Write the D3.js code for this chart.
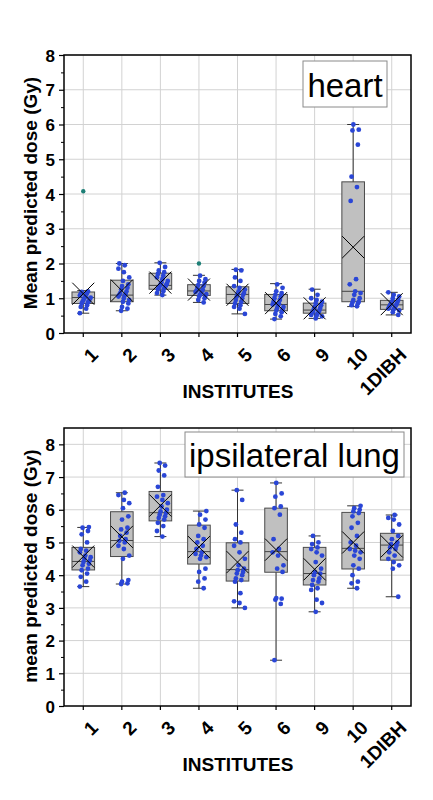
<html>
  <head>
    <meta charset="UTF-8" />
    <script src="https://cdnjs.cloudflare.com/ajax/libs/d3/7.8.5/d3.min.js"></script>
    <style>
      body { margin: 0; background: #fff; }
      text { font-family: "Liberation Sans", Arial, sans-serif; }
    </style>
  </head>
  <body>
    <svg id="chart" width="433" height="800"></svg>
    <script>
      const institutes = ["1", "2", "3", "4", "5", "6", "9", "10", "1DIBH"];

      // heart: mean predicted dose (Gy)
      const heartPoints = [
        [0.57, 0.7, 0.75, 0.8, 0.85, 0.88, 0.9, 0.92, 0.95, 0.98, 1.0, 1.02, 1.05, 1.08, 1.1, 1.12, 1.15, 1.18, 1.2],
        [0.64, 0.7, 0.75, 0.85, 0.9, 0.95, 1.0, 1.05, 1.08, 1.1, 1.12, 1.15, 1.2, 1.25, 1.3, 1.35, 1.4, 1.5, 1.6, 1.75, 1.85, 1.95, 2.0],
        [1.09, 1.15, 1.2, 1.25, 1.28, 1.3, 1.33, 1.35, 1.37, 1.4, 1.42, 1.45, 1.5, 1.55, 1.6, 1.65, 1.7, 1.75, 1.8, 1.9, 2.02],
        [0.88, 0.95, 1.0, 1.05, 1.08, 1.1, 1.12, 1.15, 1.18, 1.2, 1.22, 1.25, 1.3, 1.35, 1.38, 1.45, 1.5, 1.55, 1.65],
        [0.55, 0.7, 0.75, 0.8, 0.85, 0.9, 0.95, 1.0, 1.05, 1.1, 1.12, 1.15, 1.2, 1.25, 1.3, 1.35, 1.5, 1.6, 1.8, 1.82],
        [0.4, 0.48, 0.55, 0.6, 0.65, 0.68, 0.72, 0.75, 0.8, 0.82, 0.85, 0.9, 0.95, 1.0, 1.05, 1.1, 1.15, 1.2, 1.3, 1.4],
        [0.42, 0.48, 0.5, 0.52, 0.55, 0.58, 0.6, 0.62, 0.65, 0.7, 0.72, 0.75, 0.8, 0.85, 0.9, 0.95, 1.0, 1.1, 1.25],
        [0.77, 0.8, 0.85, 0.88, 0.9, 0.95, 1.0, 1.1, 1.15, 1.2, 1.4, 1.55, 3.8, 4.2, 4.5, 5.42, 5.83, 5.85, 6.0],
        [0.52, 0.6, 0.65, 0.68, 0.7, 0.72, 0.75, 0.78, 0.8, 0.82, 0.85, 0.88, 0.9, 0.95, 1.0, 1.05, 1.1, 1.17]
      ];
      const heartOutliers = [[4.08], [], [], [2.0], [], [], [], [], []];
      const heartLow = [0.57, 0.64, 1.09, 0.88, 0.55, 0.4, 0.42, 0.76, 0.52];
      const heartQ1 = [0.85, 0.9, 1.26, 1.08, 0.85, 0.64, 0.57, 0.9, 0.68];
      const heartMedian = [1.02, 1.09, 1.37, 1.21, 1.11, 0.82, 0.66, 1.2, 0.81];
      const heartQ3 = [1.18, 1.52, 1.72, 1.39, 1.33, 1.11, 0.86, 4.35, 0.94];
      const heartHigh = [1.22, 2.0, 2.02, 1.66, 1.83, 1.42, 1.26, 6.0, 1.17];
      const heartMean = [1.13, 1.22, 1.45, 1.25, 1.1, 0.86, 0.71, 2.47, 0.83];

      // ipsilateral lung: mean predicted dose (Gy)
      const lungPoints = [
        [3.65, 3.8, 3.95, 4.05, 4.15, 4.2, 4.3, 4.35, 4.4, 4.45, 4.5, 4.55, 4.6, 4.7, 4.75, 4.8, 5.0, 5.25, 5.35, 5.45, 5.47],
        [3.73, 3.75, 3.8, 3.85, 4.5, 4.6, 4.8, 4.9, 5.0, 5.05, 5.1, 5.2, 5.3, 5.4, 5.45, 5.7, 5.8, 6.05, 6.2, 6.3, 6.45, 6.52],
        [5.18, 5.35, 5.5, 5.6, 5.7, 5.75, 5.8, 5.85, 5.9, 5.95, 6.0, 6.1, 6.2, 6.3, 6.4, 6.45, 6.7, 7.05, 7.2, 7.35, 7.43],
        [3.6, 3.8, 3.9, 4.1, 4.2, 4.5, 4.55, 4.6, 4.65, 4.7, 4.8, 4.9, 5.0, 5.1, 5.2, 5.45, 5.55, 5.7, 5.85, 5.96],
        [3.0, 3.15, 3.2, 3.45, 3.8, 3.85, 3.9, 4.0, 4.05, 4.1, 4.15, 4.2, 4.3, 4.5, 4.7, 4.9, 5.0, 5.1, 5.3, 5.55, 6.3, 6.6],
        [1.4, 3.12, 3.25, 3.28, 3.3, 4.1, 4.2, 4.3, 4.6, 4.7, 4.8, 5.1, 5.85, 6.05, 6.1, 6.4, 6.5, 6.82],
        [2.88, 3.15, 3.25, 3.55, 3.6, 3.7, 3.8, 3.85, 3.9, 4.0, 4.05, 4.1, 4.2, 4.4, 4.6, 4.7, 4.8, 4.85, 4.95, 5.0, 5.2],
        [3.6, 3.75, 3.8, 4.0, 4.2, 4.3, 4.5, 4.6, 4.7, 4.75, 4.8, 4.9, 5.0, 5.2, 5.45, 5.6, 5.8, 5.9, 5.95, 6.0, 6.05, 6.12],
        [3.34, 4.2, 4.3, 4.4, 4.5, 4.6, 4.7, 4.8, 4.85, 4.9, 4.95, 5.0, 5.1, 5.2, 5.35, 5.55, 5.7, 5.75, 5.84]
      ];
      const lungOutliers = [[], [], [], [], [], [], [], [], []];
      const lungLow = [3.65, 3.73, 5.18, 3.6, 3.0, 1.4, 2.88, 3.6, 3.34];
      const lungQ1 = [4.16, 4.57, 5.66, 4.34, 3.82, 4.09, 3.7, 4.19, 4.46];
      const lungMedian = [4.42, 5.06, 5.91, 4.72, 4.17, 4.72, 4.05, 4.82, 4.92];
      const lungQ3 = [4.85, 5.94, 6.56, 5.53, 4.99, 6.05, 4.85, 5.92, 5.28];
      const lungHigh = [5.46, 6.52, 7.43, 5.96, 6.6, 6.82, 5.2, 6.12, 5.84];
      const lungMean = [4.57, 5.17, 6.13, 4.86, 4.4, 4.78, 4.18, 5.0, 4.88];

      const svg = d3.select("#chart");

      drawPanel({
        points: heartPoints, outliers: heartOutliers,
        low: heartLow, q1: heartQ1, median: heartMedian, q3: heartQ3, high: heartHigh, mean: heartMean,
        yMax: 8, bottom: 333, top: 55,
        yTitle: "Mean predicted dose (Gy)",
        legend: "heart", legendBox: [303, 61, 84, 46]
      });

      drawPanel({
        points: lungPoints, outliers: lungOutliers,
        low: lungLow, q1: lungQ1, median: lungMedian, q3: lungQ3, high: lungHigh, mean: lungMean,
        yMax: 8.5, bottom: 706, top: 428,
        yTitle: "mean predicted dose (Gy)",
        legend: "ipsilateral lung", legendBox: [185, 432, 219, 45]
      });

      function drawPanel(p) {
        const left = 64, right = 411;
        const x = d3.scaleBand().domain(institutes).range([left, right]);
        const cx = d => x(d) + x.bandwidth() / 2;
        const y = d3.scaleLinear().domain([0, p.yMax]).range([p.bottom, p.top]);
        const g = svg.append("g");
        const boxW = 22.6, capW = 12, xSize = 11;

        // grid
        g.selectAll(".hgrid")
          .data(d3.range(1, Math.floor(p.yMax) + 1))
          .enter()
          .append("line")
          .attr("x1", left).attr("x2", right)
          .attr("y1", d => y(d)).attr("y2", d => y(d))
          .style("stroke", "#d2d2d2");
        g.selectAll(".vgrid")
          .data(institutes)
          .enter()
          .append("line")
          .attr("x1", cx).attr("x2", cx)
          .attr("y1", p.top).attr("y2", p.bottom)
          .style("stroke", "#d2d2d2");

        // legend box
        const lb = p.legendBox;
        g.append("rect")
          .attr("x", lb[0]).attr("y", lb[1])
          .attr("width", lb[2]).attr("height", lb[3])
          .style("fill", "#fff").style("stroke", "#8a8a8a");
        g.append("text")
          .attr("x", lb[0] + lb[2] / 2).attr("y", lb[1] + lb[3] - 10.5)
          .attr("text-anchor", "middle")
          .style("font-size", "33px")
          .text(p.legend);

        const boxes = g.selectAll(".box")
          .data(institutes)
          .enter()
          .append("g")
          .attr("class", "box");

        // whiskers
        boxes.append("line")
          .attr("x1", cx).attr("x2", cx)
          .attr("y1", (d, i) => y(p.high[i])).attr("y2", (d, i) => y(p.low[i]))
          .style("stroke", "#333");
        [p.high, p.low].forEach(arr => {
          boxes.append("line")
            .attr("x1", d => cx(d) - capW / 2).attr("x2", d => cx(d) + capW / 2)
            .attr("y1", (d, i) => y(arr[i])).attr("y2", (d, i) => y(arr[i]))
            .style("stroke", "#333");
        });

        boxes.append("rect")
          .attr("x", d => cx(d) - boxW / 2)
          .attr("width", boxW)
          .attr("y", (d, i) => y(p.q3[i]))
          .attr("height", (d, i) => y(p.q1[i]) - y(p.q3[i]))
          .style("fill", "#c0c0c0")
          .style("stroke", "#4a4a4a");

        boxes.append("line")
          .attr("x1", d => cx(d) - boxW / 2).attr("x2", d => cx(d) + boxW / 2)
          .attr("y1", (d, i) => y(p.median[i])).attr("y2", (d, i) => y(p.median[i]))
          .style("stroke", "#444");

        // jittered data points
        boxes.each(function (d, i) {
          d3.select(this)
            .selectAll(".pt")
            .data(p.points[i])
            .enter()
            .append("circle")
            .attr("cx", (v, j) => cx(d) + (((j * 7 + i * 3) % 13) - 6) * 0.9 + 2)
            .attr("cy", v => y(v))
            .attr("r", 2.4)
            .style("fill", "#2a46d6");
          d3.select(this)
            .selectAll(".out")
            .data(p.outliers[i])
            .enter()
            .append("circle")
            .attr("cx", cx(d))
            .attr("cy", v => y(v))
            .attr("r", 2.2)
            .style("fill", "#1d7f76");
        });

        // mean marker
        [1, -1].forEach(s => {
          boxes.append("line")
            .attr("x1", d => cx(d) - xSize).attr("x2", d => cx(d) + xSize)
            .attr("y1", (d, i) => y(p.mean[i]) - s * xSize)
            .attr("y2", (d, i) => y(p.mean[i]) + s * xSize)
            .style("stroke", "#000");
        });

        // frame
        g.append("rect")
          .attr("x", left).attr("y", p.top)
          .attr("width", right - left).attr("height", p.bottom - p.top)
          .style("fill", "none").style("stroke", "#000").style("stroke-width", 1.5);

        // y axis
        const yAxis = g.append("g")
          .attr("transform", `translate(${left},0)`)
          .call(d3.axisLeft(y).tickValues(d3.range(0, 9)).tickSize(5).tickPadding(4).tickFormat(d3.format("d")));
        yAxis.select(".domain").remove();
        yAxis.selectAll("text")
          .style("font-size", "17px").style("font-weight", "bold")
          .style("font-family", "Liberation Sans, Arial, sans-serif")
          .attr("dy", "0.36em");
        yAxis.selectAll("line").style("stroke-width", 1.2);
        const yMinor = g.append("g")
          .attr("transform", `translate(${left},0)`)
          .call(d3.axisLeft(y).tickValues(d3.range(0.5, p.yMax, 1)).tickSize(3).tickFormat(""));
        yMinor.select(".domain").remove();

        // x axis
        const xAxis = g.append("g")
          .attr("transform", `translate(0,${p.bottom})`)
          .call(d3.axisBottom(x).tickSize(4).tickFormat(""));
        xAxis.select(".domain").remove();
        xAxis.selectAll("line").style("stroke-width", 1.2);

        g.selectAll(".xlab")
          .data(institutes)
          .enter()
          .append("text")
          .attr("transform", d => `translate(${cx(d) + 16},${p.bottom + 23}) rotate(-45)`)
          .attr("text-anchor", "end")
          .style("font-size", "19px")
          .style("font-weight", "bold")
          .text(d => d);

        g.append("text")
          .attr("x", 238).attr("y", p.bottom + 64.5)
          .attr("text-anchor", "middle")
          .style("font-size", "19px").style("font-weight", "bold")
          .text("INSTITUTES");

        g.append("text")
          .attr("transform", `translate(37,${(p.top + p.bottom) / 2 - 1}) rotate(-90)`)
          .attr("text-anchor", "middle")
          .style("font-size", "19px").style("font-weight", "bold")
          .text(p.yTitle);
      }
    </script>
  </body>
</html>
